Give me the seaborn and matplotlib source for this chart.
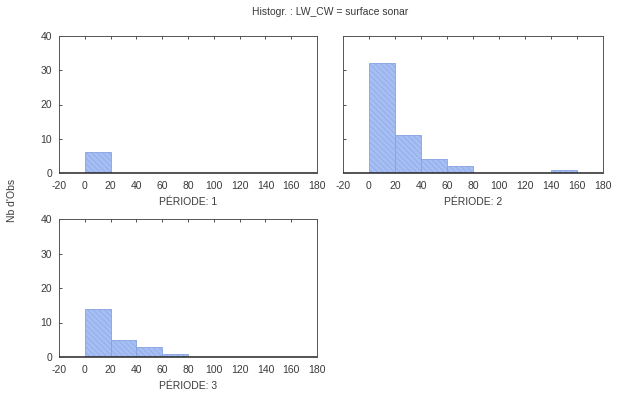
import matplotlib
matplotlib.use("Agg")
import matplotlib.pyplot as plt
import numpy as np
import seaborn as sns

sns.set_theme(style="white")
plt.rcParams["font.family"] = ["Liberation Sans", "DejaVu Sans"]
plt.rcParams["hatch.linewidth"] = 0.4
plt.rcParams["axes.unicode_minus"] = False

# Class edges of the histogram (surface sonar, LW_CW)
bin_edges = [-20, 0, 20, 40, 60, 80, 100, 120, 140, 160, 180]
bin_centers = [-10, 10, 30, 50, 70, 90, 110, 130, 150, 170]

# Counts per class for each period
counts_p1 = [0, 6, 0, 0, 0, 0, 0, 0, 0, 0]
counts_p2 = [0, 32, 11, 4, 2, 0, 0, 0, 1, 0]
counts_p3 = [0, 14, 5, 3, 1, 0, 0, 0, 0, 0]

period_labels = ["PÉRIODE: 1", "PÉRIODE: 2", "PÉRIODE: 3"]
x_ticks = [-20, 0, 20, 40, 60, 80, 100, 120, 140, 160, 180]
y_ticks = [0, 10, 20, 30, 40]

title = "Histogr. : LW_CW = surface sonar"
y_label = "Nb d'Obs"

W, H = 619, 398
fig = plt.figure(figsize=(W / 100, H / 100), dpi=100)


def frac_box(x0, y0, x1, y1):
    return [x0 / W, 1 - y1 / H, (x1 - x0) / W, (y1 - y0) / H]


boxes = [
    frac_box(59, 36, 317, 173),
    frac_box(343, 36, 603, 173),
    frac_box(59, 219, 317, 357),
]
series = [counts_p1, counts_p2, counts_p3]
text_col = "#3a3a3a"

for i, (box, counts, lab) in enumerate(zip(boxes, series, period_labels)):
    ax = fig.add_axes(box)
    sns.histplot(
        x=bin_centers, weights=counts, bins=bin_edges, ax=ax,
        stat="count", element="bars",
        color="#a6bef2", alpha=1.0, edgecolor="#86a2e4",
        linewidth=0.6, hatch="\\\\\\\\\\\\",
    )
    ax.axhline(0, color="#222222", lw=1.1, zorder=5)
    ax.set_xlim(-20, 180)
    ax.set_ylim(0, 40)
    ax.set_xticks(x_ticks)
    ax.set_yticks(y_ticks)
    ax.set_ylabel("")
    ax.set_xlabel(lab, fontsize=7.5, color=text_col, labelpad=4)
    ax.tick_params(axis="both", direction="in", length=2.5, width=0.6,
                   labelsize=7.5, labelcolor=text_col, color="#333333",
                   top=True, bottom=False, left=True)
    ax.tick_params(axis="x", pad=6)
    ax.tick_params(axis="y", pad=5)
    if i == 1:
        ax.tick_params(axis="y", labelleft=False)
    for s in ax.spines.values():
        s.set_color("#555555")
        s.set_linewidth(0.7)

fig.text(330 / W, 1 - 12 / H, title, ha="center", va="center",
         fontsize=7.5, color=text_col)
fig.text(12 / W, 1 - 200 / H, y_label, ha="center", va="center",
         rotation=90, fontsize=7.5, color=text_col)

fig.savefig("out.png", dpi=100, facecolor="white")
